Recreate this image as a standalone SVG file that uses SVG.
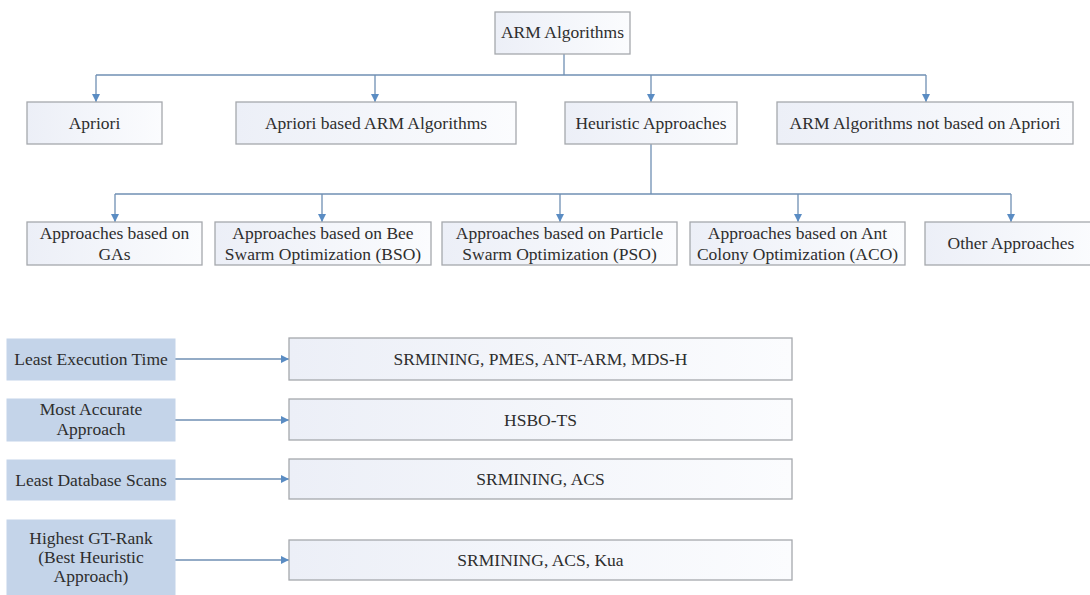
<svg xmlns="http://www.w3.org/2000/svg" width="1090" height="595" viewBox="0 0 1090 595">
<defs>
<linearGradient id="gBox" x1="0" y1="0" x2="1" y2="0">
<stop offset="0" stop-color="#eceff7"/>
<stop offset="1" stop-color="#fbfcfe"/>
</linearGradient>
<marker id="arr" viewBox="0 0 10 10" refX="10" refY="5" markerWidth="8" markerHeight="8" markerUnits="userSpaceOnUse" orient="auto">
<path d="M0,0 L10,5 L0,10 z" fill="#5a8cc3"/>
</marker>
<style>
.box{fill:url(#gBox);stroke:#a5a8ad;stroke-width:1.3}
.lbox{fill:#c4d4e9;stroke:#c4d4e9;stroke-width:1}
.t{font-family:"Liberation Serif","Times New Roman",serif;font-size:17.5px;fill:#2e2e2e;text-anchor:middle}
.c{fill:none;stroke:#6f8fb3;stroke-width:1.3}
.ca{fill:none;stroke:#6f8fb3;stroke-width:1.3;marker-end:url(#arr)}
</style>
</defs>
<rect width="1090" height="595" fill="#ffffff"/>

<g id="connectors">
<path class="c" d="M564,54 V75"/>
<path class="c" d="M96,75 H926"/>
<path class="ca" d="M96,75 V102"/>
<path class="ca" d="M375,75 V102"/>
<path class="ca" d="M651,75 V102"/>
<path class="ca" d="M926,75 V102"/>
<path class="c" d="M651,144 V194"/>
<path class="c" d="M115,194 H1011"/>
<path class="ca" d="M115,194 V222"/>
<path class="ca" d="M322,194 V222"/>
<path class="ca" d="M560,194 V222"/>
<path class="ca" d="M798,194 V222"/>
<path class="ca" d="M1011,194 V222"/>
<path class="ca" d="M175,359 H289"/>
<path class="ca" d="M175,420 H289"/>
<path class="ca" d="M175,479 H289"/>
<path class="ca" d="M175,560 H289"/>
</g>

<g id="n-root"><rect class="box" x="495" y="12" width="135" height="42"/><text class="t" x="562.5" y="38">ARM Algorithms</text></g>

<g id="n-apriori"><rect class="box" x="27" y="102" width="135" height="42"/><text class="t" x="94.5" y="129">Apriori</text></g>
<g id="n-apriori-based"><rect class="box" x="236" y="102" width="280" height="42"/><text class="t" x="376" y="129">Apriori based ARM Algorithms</text></g>
<g id="n-heuristic"><rect class="box" x="565" y="102" width="172" height="42"/><text class="t" x="651" y="129">Heuristic Approaches</text></g>
<g id="n-not-apriori"><rect class="box" x="777" y="102" width="296" height="42"/><text class="t" x="925" y="129">ARM Algorithms not based on Apriori</text></g>

<g id="n-gas"><rect class="box" x="27" y="222" width="175" height="43"/><text class="t" x="114.5" y="239">Approaches based on</text><text class="t" x="114.5" y="260">GAs</text></g>
<g id="n-bso"><rect class="box" x="215" y="222" width="216" height="43"/><text class="t" x="323" y="239">Approaches based on Bee</text><text class="t" x="323" y="260">Swarm Optimization (BSO)</text></g>
<g id="n-pso"><rect class="box" x="442" y="222" width="235" height="43"/><text class="t" x="559.5" y="239">Approaches based on Particle</text><text class="t" x="559.5" y="260">Swarm Optimization (PSO)</text></g>
<g id="n-aco"><rect class="box" x="690" y="222" width="215" height="43"/><text class="t" x="797.5" y="239">Approaches based on Ant</text><text class="t" x="797.5" y="260">Colony Optimization (ACO)</text></g>
<g id="n-other"><rect class="box" x="925" y="222" width="172" height="43"/><text class="t" x="1011" y="249">Other Approaches</text></g>

<g id="n-l1"><rect class="lbox" x="7" y="339" width="168" height="41"/><text class="t" x="91" y="365">Least Execution Time</text></g>
<g id="n-l2"><rect class="lbox" x="7" y="399" width="168" height="42"/><text class="t" x="91" y="415">Most Accurate</text><text class="t" x="91" y="435">Approach</text></g>
<g id="n-l3"><rect class="lbox" x="7" y="460" width="168" height="40"/><text class="t" x="91" y="486">Least Database Scans</text></g>
<g id="n-l4"><rect class="lbox" x="7" y="520" width="168" height="79"/><text class="t" x="91" y="544">Highest GT-Rank</text><text class="t" x="91" y="563">(Best Heuristic</text><text class="t" x="91" y="582">Approach)</text></g>

<g id="n-r1"><rect class="box" x="289" y="338" width="503" height="42"/><text class="t" x="540.5" y="365">SRMINING, PMES, ANT-ARM, MDS-H</text></g>
<g id="n-r2"><rect class="box" x="289" y="399" width="503" height="41"/><text class="t" x="540.5" y="425.5">HSBO-TS</text></g>
<g id="n-r3"><rect class="box" x="289" y="459" width="503" height="40"/><text class="t" x="540.5" y="485">SRMINING, ACS</text></g>
<g id="n-r4"><rect class="box" x="289" y="540" width="503" height="40"/><text class="t" x="540.5" y="566">SRMINING, ACS, Kua</text></g>
</svg>
